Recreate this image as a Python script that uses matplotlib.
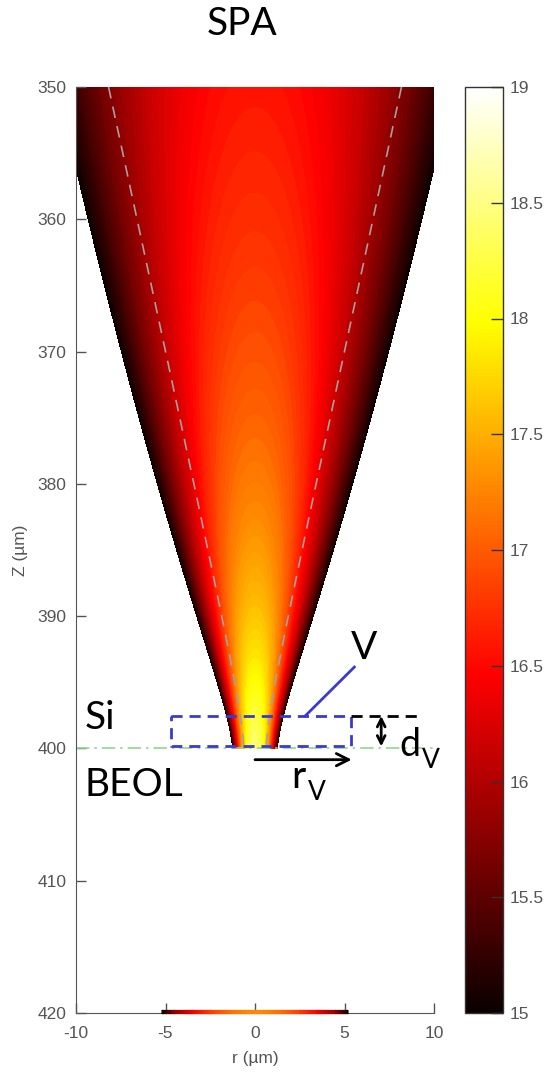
import numpy as np
import matplotlib
matplotlib.use("Agg")
import matplotlib.pyplot as plt
from matplotlib.colors import Normalize
from matplotlib.cm import ScalarMappable

plt.rcParams["axes.unicode_minus"] = False

# beam parameters (µm) and log10 generation levels
W0 = 0.6            # waist radius
Z_FOCUS = 401.0     # focal plane
Z_RAYLEIGH = 3.75   # Rayleigh range
LEVEL_FOCUS = 18.45 # log10 rate on axis at the waist
DECAY = 1.65        # on-axis fall-off per decade of beam radius
Z_INTERFACE = 400.0 # Si / BEOL boundary

levels = np.arange(15.0, 19.001, 0.05)
cbar_ticks = [15, 15.5, 16, 16.5, 17, 17.5, 18, 18.5, 19]
x_ticks = [-10, -5, 0, 5, 10]
y_ticks = [350, 360, 370, 380, 390, 400, 410, 420]

# profile along the bottom plane
strip_r = [-5.2, -4.5, -3.5, -2.5, -1.5, -0.5, 0.5, 1.5, 2.5, 3.5, 4.5, 5.2]
strip_level = [15.0, 15.8, 16.4, 16.8, 17.1, 17.25, 17.25, 17.1, 16.8, 16.4, 15.8, 15.0]

# volume V annotation (µm)
box_r = [-4.7, 5.35]
box_z = [397.55, 399.85]

TICK_FONT = "Liberation Sans"
LABEL_FONT = "Lato"
GREY = "#555555"


def beam_radius(z):
    return W0 * np.sqrt(1 + ((z - Z_FOCUS) / Z_RAYLEIGH) ** 2)


r = np.linspace(-12, 12, 961)
z = np.linspace(350, Z_INTERFACE, 1001)
R, Z = np.meshgrid(r, z)
w = beam_radius(Z)
centre = LEVEL_FOCUS - DECAY * np.log10(w / W0)
G = centre - 2 * np.log10(np.e) * (R / w) ** 2

fig = plt.figure(figsize=(5.53, 10.75), dpi=100)
ax = fig.add_axes([76 / 553, 1 - 1013 / 1075, 358 / 553, 926 / 1075])
cax = fig.add_axes([465 / 553, 1 - 1013 / 1075, 38 / 553, 926 / 1075])

norm = Normalize(15, 19)
cs = ax.contourf(R, Z, G, levels=levels, cmap="hot", norm=norm)
cs.set_edgecolor("face")
cs.set_linewidth(0.3)

# beam radius w(z)
zz = np.linspace(350, Z_INTERFACE, 200)
for sign in (-1, 1):
    ax.plot(sign * beam_radius(zz), zz, color="#a8a0a0", lw=1.2,
            dashes=(7, 5))

# thin profile on the bottom plane
sr = np.array(strip_r)
sl = np.array(strip_level)
ax.pcolormesh(np.vstack([sr, sr]), np.array([[419.8] * len(sr), [420.05] * len(sr)]),
              np.vstack([sl, sl]), cmap="hot", norm=norm, shading="gouraud",
              clip_on=False, zorder=5)

ax.set_xlim(-10, 10)
ax.set_ylim(420, 350)
ax.set_xticks(x_ticks)
ax.set_yticks(y_ticks)
for side in ("top", "right"):
    ax.spines[side].set_visible(False)
for side in ("left", "bottom"):
    ax.spines[side].set_color(GREY)
ax.tick_params(direction="in", length=7, width=1, color=GREY,
               labelcolor=GREY, labelsize=12.5)
ax.tick_params(axis="y", pad=7)
ax.tick_params(axis="x", pad=9)
for lab in ax.get_xticklabels() + ax.get_yticklabels():
    lab.set_fontfamily(TICK_FONT)

# interface line
ax.plot([-10, 10.3], [Z_INTERFACE, Z_INTERFACE], color="#90d890", lw=1.2,
        dashes=(8, 3, 1.5, 3), clip_on=False)

# volume V box and labels
blue = "#3a3ad0"
ax.plot([box_r[0], box_r[1], box_r[1], box_r[0], box_r[0]],
        [box_z[0], box_z[0], box_z[1], box_z[1], box_z[0]],
        color=blue, lw=2, dashes=(4, 2.5))
ax.plot([2.8, 5.55], [box_z[0], 393.85], color=blue, lw=2)
ax.plot([box_r[1], 9.35], [box_z[0], box_z[0]], color="black", lw=2,
        dashes=(4, 2.5))
ax.annotate("", xy=(7.05, box_z[0]), xytext=(7.05, box_z[1]),
            arrowprops=dict(arrowstyle="<->", lw=2, color="black",
                            mutation_scale=14, shrinkA=0, shrinkB=0))
ax.annotate("", xy=(5.4, 400.85), xytext=(0.0, 400.85),
            arrowprops=dict(arrowstyle="->", lw=2, color="black",
                            mutation_scale=22, shrinkA=0, shrinkB=0))

big = dict(family=LABEL_FONT, fontsize=28, color="black")
ax.text(-9.5, 397.7, "Si", ha="left", va="center", **big)
ax.text(-9.5, 402.8, "BEOL", ha="left", va="center", **big)
ax.text(6.1, 392.4, "V", ha="center", va="center", **big)
ax.text(8.05, 400.6, "d", ha="left", va="baseline", family=LABEL_FONT,
        fontsize=27)
ax.text(9.35, 401.5, "V", ha="left", va="baseline", family=LABEL_FONT,
        fontsize=19)
ax.text(2.0, 403.0, "r", ha="left", va="baseline", family=LABEL_FONT,
        fontsize=28)
ax.text(2.95, 403.9, "V", ha="left", va="baseline", family=LABEL_FONT,
        fontsize=19)

# continuous colour bar
sm = ScalarMappable(norm=norm, cmap="hot")
cb = fig.colorbar(sm, cax=cax, ticks=cbar_ticks)
cb.ax.set_yticklabels(["%g" % t for t in cbar_ticks])
cb.outline.set_linewidth(1)
cb.outline.set_edgecolor("#333333")
cax.tick_params(direction="in", length=9, width=1, color="#333333",
                labelcolor=GREY, labelsize=12.5, pad=5)
for lab in cax.get_yticklabels():
    lab.set_fontfamily(TICK_FONT)

fig.text(242 / 553, 1 - 24 / 1075, "SPA", ha="center", va="center",
         family=LABEL_FONT, fontsize=28)
fig.text(255 / 553, 1 - 1058 / 1075, "r (µm)", ha="center", va="center",
         family=TICK_FONT, fontsize=12.5, color=GREY)
fig.text(21 / 553, 1 - 550 / 1075, "Z (µm)", ha="center", va="center",
         rotation=90, family=TICK_FONT, fontsize=12.5, color=GREY)

fig.savefig("out.png", dpi=100)
